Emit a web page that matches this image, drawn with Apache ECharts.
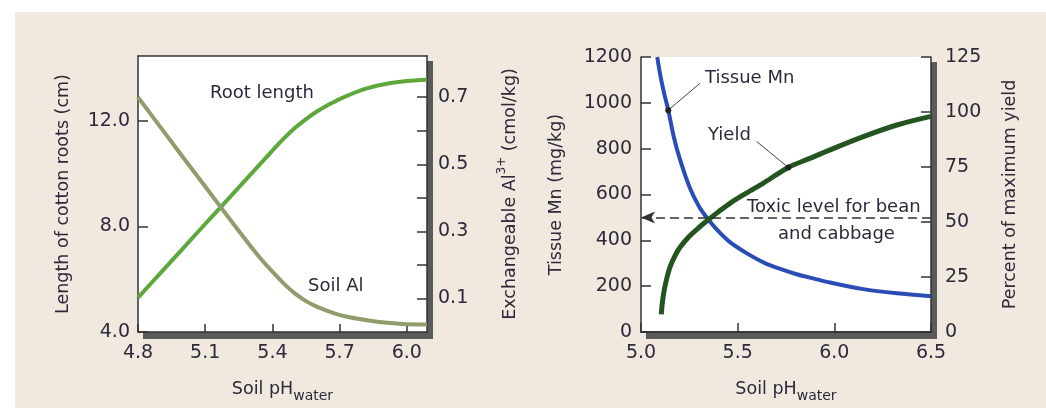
<!DOCTYPE html>
<html>
<head>
<meta charset="utf-8">
<script src="https://cdn.jsdelivr.net/npm/echarts@6/dist/echarts.min.js"></script>
<style>
  html, body { margin: 0; padding: 0; background: #fff; }
  #panel { position: absolute; left: 15px; top: 12px; width: 1031px; height: 396px; background: #f1e9df; }
  #main { position: absolute; left: 0; top: 0; width: 1046px; height: 408px; }
</style>
</head>
<body>
<div id="panel"></div>
<div id="main"></div>
<script>
  // left panel: root length and soil Al vs pH
  let rootPh = [4.8, 4.9, 5.0, 5.1, 5.2, 5.3, 5.4, 5.45, 5.5, 5.55, 5.6, 5.65, 5.7, 5.8, 5.9, 6.0, 6.09];
  let rootLen = [5.3, 6.23, 7.16, 8.09, 9.01, 9.94, 10.87, 11.32, 11.72, 12.06, 12.36, 12.6, 12.82, 13.17, 13.38, 13.5, 13.55];
  let alPh = [4.8, 4.9, 5.0, 5.1, 5.2, 5.3, 5.35, 5.4, 5.45, 5.5, 5.55, 5.6, 5.68, 5.75, 5.83, 5.9, 5.98, 6.09];
  let soilAl = [0.70, 0.611, 0.522, 0.434, 0.345, 0.258, 0.217, 0.18, 0.145, 0.115, 0.092, 0.075, 0.055, 0.043, 0.034, 0.028, 0.024, 0.022];

  // right panel: tissue Mn and yield vs pH
  let mnPh = [5.084, 5.1, 5.12, 5.141, 5.17, 5.202, 5.253, 5.3, 5.348, 5.4, 5.46, 5.55, 5.633, 5.72, 5.805, 5.9, 5.978, 6.15, 6.323, 6.5];
  let tissueMn = [1200, 1120, 1040, 968, 850, 752, 628, 548, 491, 440, 392, 342, 304, 275, 252, 232, 216, 187, 169, 156];
  let yieldPh = [5.105, 5.11, 5.12, 5.135, 5.15, 5.175, 5.202, 5.25, 5.3, 5.348, 5.4, 5.46, 5.55, 5.633, 5.762, 5.87, 5.978, 6.15, 6.323, 6.5];
  let yieldPct = [8, 13, 19, 25, 29.5, 34.5, 38.5, 43.5, 47.5, 51, 54.6, 58.5, 63.4, 67.7, 74.8, 78.8, 82.8, 88.8, 94.1, 98];
  let toxicLevel = 500;

  // leader lines for the curve labels [label end, point on curve]
  let mnLeader = [[5.305, 1085], [5.141, 968]];
  let yieldLeader = [[5.598, 86.6], [5.762, 74.8]];

  // ticks
  let x1Ticks = [4.8, 5.1, 5.4, 5.7, 6.0];
  let yLeft1Ticks = [4, 8, 12];
  let yRight1Ticks = [0.1, 0.2, 0.3, 0.4, 0.5, 0.6, 0.7];
  let yRight1Labels = [0.1, 0.3, 0.5, 0.7];
  let x2Ticks = [5.0, 5.5, 6.0, 6.5];
  let yLeft2Ticks = [0, 200, 400, 600, 800, 1000, 1200];
  let yRight2Ticks = [0, 25, 50, 75, 100, 125];

  function pairs(xs, ys) {
    return xs.map(function (x, i) { return [x, ys[i]]; });
  }

  let textColor = '#2b2a3a';
  let font = 'DejaVu Sans';
  let frame = { show: true, lineStyle: { color: '#333', width: 1.5 } };

  function axisBase(extra) {
    let base = {
      type: 'value',
      axisLine: frame,
      splitLine: { show: false },
      axisTick: { inside: true, length: 10, lineStyle: { color: '#333', width: 1.5 } },
      axisLabel: { color: textColor, fontFamily: font, fontSize: 19 },
      nameLocation: 'middle',
      nameTextStyle: {
        color: textColor, fontFamily: font, fontSize: 17.5,
        rich: {
          sub: { fontFamily: font, fontSize: 14, color: textColor, verticalAlign: 'bottom', lineHeight: 27 },
          sup: { fontFamily: font, fontSize: 12, color: textColor, verticalAlign: 'top', lineHeight: 28 }
        }
      }
    };
    return Object.assign(base, extra);
  }

  // top edge of each frame
  function topAxis(gridIndex, min, max) {
    return {
      type: 'value', gridIndex: gridIndex, min: min, max: max, position: 'top',
      axisLine: frame, axisTick: { show: false }, axisLabel: { show: false }, splitLine: { show: false }
    };
  }

  let chart = echarts.init(document.getElementById('main'));
  let option = {
    animation: false,
    grid: [
      { left: 138, top: 56, width: 289, height: 277, show: true, backgroundColor: '#fff', borderWidth: 0, z: 0 },
      { left: 641, top: 57, width: 290, height: 276, show: true, backgroundColor: '#fff', borderWidth: 0, z: 0 },
      // drop shadows behind the two frames
      { left: 143, top: 61, width: 290, height: 278, show: true, backgroundColor: '#5a5a5a', borderWidth: 0, z: -1 },
      { left: 646, top: 62, width: 291, height: 277, show: true, backgroundColor: '#5a5a5a', borderWidth: 0, z: -1 }
    ],
    xAxis: [
      axisBase({
        gridIndex: 0, min: 4.8, max: 6.09,
        name: 'Soil pH{sub|water}', nameGap: 44,
        axisTick: { inside: true, length: 8, customValues: x1Ticks, lineStyle: { color: '#333', width: 1.5 } },
        axisLabel: { color: textColor, fontFamily: font, fontSize: 19, margin: 12, customValues: x1Ticks,
          formatter: function (v) { return v.toFixed(1); } }
      }),
      axisBase({
        gridIndex: 1, min: 5.0, max: 6.5,
        name: 'Soil pH{sub|water}', nameGap: 44,
        axisTick: { inside: true, length: 9, customValues: x2Ticks, lineStyle: { color: '#333', width: 1.5 } },
        axisLabel: { color: textColor, fontFamily: font, fontSize: 19, margin: 12, customValues: x2Ticks,
          formatter: function (v) { return v.toFixed(1); } }
      }),
      topAxis(0, 4.8, 6.09),
      topAxis(1, 5.0, 6.5)
    ],
    yAxis: [
      axisBase({
        gridIndex: 0, min: 4, max: 14.45, position: 'left',
        name: 'Length of cotton roots (cm)', nameGap: 66, nameRotate: 90,
        axisTick: { inside: true, length: 10, customValues: yLeft1Ticks, lineStyle: { color: '#333', width: 1.5 } },
        axisLabel: { color: textColor, fontFamily: font, fontSize: 19, margin: 8, customValues: yLeft1Ticks,
          formatter: function (v) { return v.toFixed(1); } }
      }),
      axisBase({
        gridIndex: 0, min: 0, max: 0.823, position: 'right',
        name: 'Exchangeable Al{sup|3+} (cmol/kg)', nameGap: 69, nameRotate: 90,
        axisTick: { inside: true, length: 10, customValues: yRight1Ticks, lineStyle: { color: '#333', width: 1.5 } },
        axisLabel: { color: textColor, fontFamily: font, fontSize: 19, margin: 11, customValues: yRight1Labels,
          formatter: function (v) { return v.toFixed(1); } }
      }),
      axisBase({
        gridIndex: 1, min: 0, max: 1200, position: 'left',
        name: 'Tissue Mn (mg/kg)', nameGap: 76, nameRotate: 90,
        axisTick: { inside: true, length: 10, customValues: yLeft2Ticks, lineStyle: { color: '#333', width: 1.5 } },
        axisLabel: { color: textColor, fontFamily: font, fontSize: 19, margin: 9, customValues: yLeft2Ticks,
          formatter: function (v) { return String(v); } }
      }),
      axisBase({
        gridIndex: 1, min: 0, max: 125, position: 'right',
        name: 'Percent of maximum yield', nameGap: 70, nameRotate: 90,
        axisTick: { inside: true, length: 10, customValues: yRight2Ticks, lineStyle: { color: '#333', width: 1.5 } },
        axisLabel: { color: textColor, fontFamily: font, fontSize: 19, margin: 14, customValues: yRight2Ticks,
          formatter: function (v) { return String(v); } }
      })
    ],
    series: [
      {
        name: 'Root length', type: 'line', xAxisIndex: 0, yAxisIndex: 0,
        data: pairs(rootPh, rootLen), smooth: 0.3, showSymbol: false,
        lineStyle: { color: '#5ea83b', width: 4 }
      },
      {
        name: 'Soil Al', type: 'line', xAxisIndex: 0, yAxisIndex: 1,
        data: pairs(alPh, soilAl), smooth: 0.3, showSymbol: false,
        lineStyle: { color: '#8f9c6c', width: 4 }
      },
      {
        name: 'Tissue Mn', type: 'line', xAxisIndex: 1, yAxisIndex: 2,
        data: pairs(mnPh, tissueMn), smooth: 0.3, showSymbol: false,
        lineStyle: { color: '#2a4db5', width: 4 },
        markLine: {
          silent: true, animation: false,
          symbol: ['none', 'arrow'], symbolSize: [9, 14],
          label: { show: false },
          lineStyle: { color: '#333', type: [9, 5], width: 1.5 },
          data: [[{ coord: [6.5, toxicLevel] }, { coord: [5.0, toxicLevel] }]]
        }
      },
      {
        name: 'Yield', type: 'line', xAxisIndex: 1, yAxisIndex: 3,
        data: pairs(yieldPh, yieldPct), smooth: 0.3, showSymbol: false,
        lineStyle: { color: '#245520', width: 5 }
      },
      {
        name: 'Mn leader', type: 'line', xAxisIndex: 1, yAxisIndex: 2,
        data: mnLeader, symbol: 'circle',
        symbolSize: function (v, p) { return p.dataIndex === 1 ? 6 : 0; },
        itemStyle: { color: '#222' }, lineStyle: { color: '#444', width: 1 }
      },
      {
        name: 'Yield leader', type: 'line', xAxisIndex: 1, yAxisIndex: 3,
        data: yieldLeader, symbol: 'circle',
        symbolSize: function (v, p) { return p.dataIndex === 1 ? 6 : 0; },
        itemStyle: { color: '#222' }, lineStyle: { color: '#444', width: 1 }
      }
    ],
    graphic: {
      z: 20,
      elements: [
        { type: 'text', left: 210, top: 84, style: { text: 'Root length', font: '18px "DejaVu Sans"', fill: textColor } },
        { type: 'text', left: 308, top: 277, style: { text: 'Soil Al', font: '18px "DejaVu Sans"', fill: textColor } },
        { type: 'text', left: 705, top: 69, style: { text: 'Tissue Mn', font: '18px "DejaVu Sans"', fill: textColor } },
        { type: 'text', left: 708, top: 126, style: { text: 'Yield', font: '18px "DejaVu Sans"', fill: textColor } },
        { type: 'text', left: 747, top: 198, style: { text: 'Toxic level for bean', font: '18px "DejaVu Sans"', fill: textColor } },
        { type: 'text', left: 778, top: 225, style: { text: 'and cabbage', font: '18px "DejaVu Sans"', fill: textColor } }
      ]
    }
  };
  chart.setOption(option);
</script>
</body>
</html>
